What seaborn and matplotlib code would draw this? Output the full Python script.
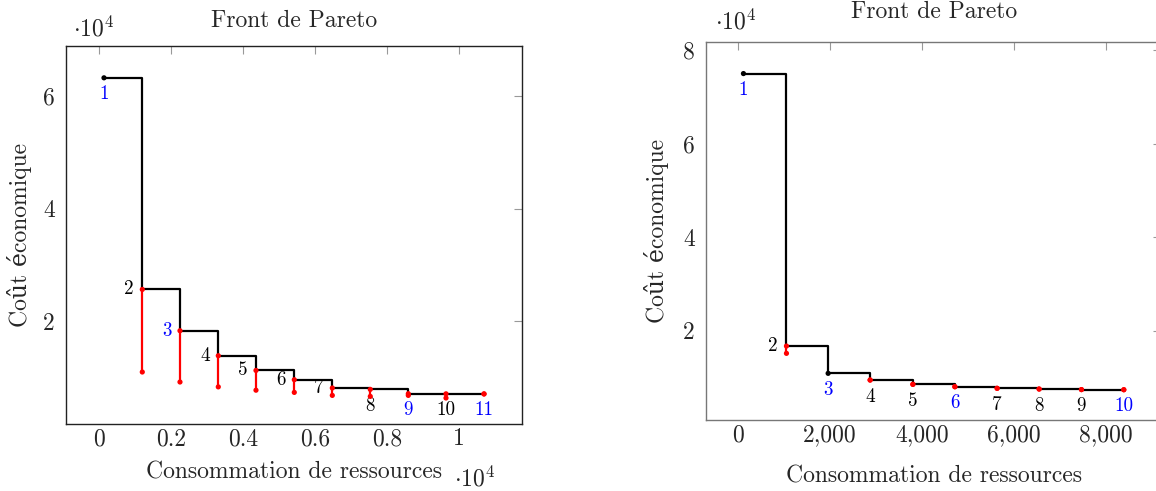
import numpy as np
import pandas as pd
import matplotlib
matplotlib.use('Agg')
import matplotlib.pyplot as plt
import seaborn as sns
from matplotlib.ticker import FixedLocator, FuncFormatter

# Front de Pareto, graphique de gauche (11 solutions)
gauche_conso = [147, 1211, 2258, 3322, 4369, 5433, 6489, 7544, 8600, 9647, 10703]
gauche_cout = [63250, 25680, 18350, 13913, 11300, 9654, 8181, 7933, 7170, 7150, 7130]
gauche_cout_bas = [np.nan, 11020, 9245, 8380, 7790, 7400, 6868, 6690, 6868, 6406, 7130]
gauche_labels = ['1', '2', '3', '4', '5', '6', '7', '8', '9', '10', '11']
gauche_bleus = ['1', '3', '9', '11']
gauche_a_gauche = ['2', '3', '4', '5', '6', '7']

# Front de Pareto, graphique de droite (10 solutions)
droite_conso = [124, 1059, 1965, 2878, 3807, 4720, 5639, 6552, 7472, 8393]
droite_cout = [75000, 16730, 10897, 9466, 8547, 8034, 7692, 7543, 7420, 7393]
droite_cout_bas = [np.nan, 15170, np.nan, 9466, 8547, 8034, 7692, 7543, 7420, 7393]
droite_labels = ['1', '2', '3', '4', '5', '6', '7', '8', '9', '10']
droite_bleus = ['1', '3', '6', '10']
droite_a_gauche = ['2']

gauche_xticks = [0, 2000, 4000, 6000, 8000, 10000]
gauche_yticks = [20000, 40000, 60000]
droite_xticks = [0, 2000, 4000, 6000, 8000]
droite_yticks = [20000, 40000, 60000, 80000]

sns.set_style('white')
plt.rcParams['font.family'] = ['cmr10', 'DejaVu Serif']
plt.rcParams['mathtext.fontset'] = 'cm'
plt.rcParams['axes.unicode_minus'] = False
plt.rcParams['font.size'] = 17

FS = 17
FS_PETIT = 13.8


def tracer_front(ax, conso, cout, cout_bas, labels, bleus, a_gauche, spine_color):
    """Trace un front de Pareto en escalier avec les segments rouges"""
    df = pd.DataFrame({'conso': conso, 'cout': cout, 'bas': cout_bas})
    sns.lineplot(data=df, x='conso', y='cout', ax=ax, color='black', lw=1.6,
                 drawstyle='steps-post', estimator=None, sort=False, zorder=2)

    rouge = df.dropna(subset=['bas'])
    ax.vlines(rouge['conso'], rouge['bas'], rouge['cout'], color='red', lw=1.6, zorder=3)
    sns.scatterplot(data=rouge, x='conso', y='bas', ax=ax, color='red', s=14,
                    edgecolor='none', zorder=4)
    couleurs = ['black' if np.isnan(b) else 'red' for b in cout_bas]
    ax.scatter(df['conso'], df['cout'], c=couleurs, s=14, edgecolors='none', zorder=5)

    for x, y, lab in zip(conso, cout, labels):
        col = 'blue' if lab in bleus else 'black'
        if lab in a_gauche:
            ax.annotate(lab, (x, y), xytext=(-6, 0), textcoords='offset points',
                        ha='right', va='center', color=col, fontsize=FS_PETIT)
        else:
            ax.annotate(lab, (x, y), xytext=(0, -5.5), textcoords='offset points',
                        ha='center', va='top', color=col, fontsize=FS_PETIT)

    ax.set_xlabel('Consommation de ressources', fontsize=FS)
    ax.set_ylabel('Coût économique', fontsize=FS)
    ax.tick_params(direction='in', length=6, width=0.8, color='#999999',
                   top=True, right=True, labelsize=FS, pad=8)
    ax.tick_params(axis='x', pad=3)
    for sp in ax.spines.values():
        sp.set_color(spine_color)
        sp.set_linewidth(1.0)


fig = plt.figure(figsize=(11.56, 4.91), dpi=100)
ax1 = fig.add_axes([66 / 1156, 67 / 491, 456 / 1156, 378 / 491])
ax2 = fig.add_axes([706 / 1156, 71 / 491, 455.4 / 1156, 378 / 491])

tracer_front(ax1, gauche_conso, gauche_cout, gauche_cout_bas, gauche_labels,
             gauche_bleus, gauche_a_gauche, '#222222')
ax1.set_xlim(-908, 11758)
ax1.set_ylim(1790, 68900)
ax1.xaxis.set_major_locator(FixedLocator(gauche_xticks))
ax1.yaxis.set_major_locator(FixedLocator(gauche_yticks))
ax1.xaxis.set_major_formatter(FuncFormatter(lambda v, p: f'{v / 1e4:g}'))
ax1.yaxis.set_major_formatter(FuncFormatter(lambda v, p: f'{v / 1e4:g}'))
ax1.set_title('Front de Pareto', fontsize=FS, pad=13.5)
ax1.xaxis.labelpad = 8
ax1.yaxis.labelpad = 8
ax1.text(0.015, 1.012, r'$\cdot10^4$', transform=ax1.transAxes, fontsize=FS, va='bottom')
ax1.text(0.85, -0.165, r'$\cdot10^4$', transform=ax1.transAxes, fontsize=FS, va='baseline')

tracer_front(ax2, droite_conso, droite_cout, droite_cout_bas, droite_labels,
             droite_bleus, droite_a_gauche, '#777777')
ax2.set_xlim(-690, 9210)
ax2.set_ylim(920, 81750)
ax2.xaxis.set_major_locator(FixedLocator(droite_xticks))
ax2.yaxis.set_major_locator(FixedLocator(droite_yticks))
ax2.xaxis.set_major_formatter(FuncFormatter(lambda v, p: f'{int(v):,}'))
ax2.yaxis.set_major_formatter(FuncFormatter(lambda v, p: f'{v / 1e4:g}'))
ax2.set_title('Front de Pareto', fontsize=FS, pad=17)
ax2.xaxis.labelpad = 14
ax2.yaxis.labelpad = 10
ax2.text(0.02, 1.02, r'$\cdot10^4$', transform=ax2.transAxes, fontsize=FS, va='bottom')

fig.savefig('out.png', dpi=100)
